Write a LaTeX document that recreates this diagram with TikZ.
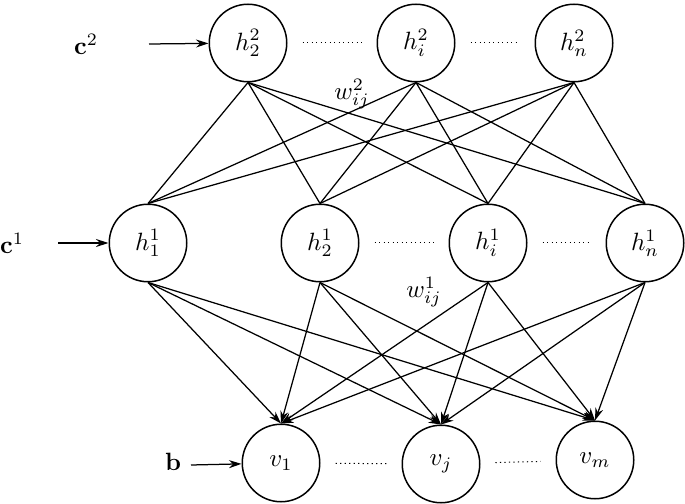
\documentclass[tikz,border=0pt]{standalone}
\usetikzlibrary{arrows.meta}

\begin{document}
\begin{tikzpicture}[x=0.4pt, y=-0.4pt,
  unit/.style={shape=circle, draw=black, fill=white, minimum size=31pt, inner sep=0pt, line width=0.6pt},
  feed/.style={-{Stealth[length=5pt, width=3.2pt]}, line width=0.5pt},
  dotrow/.style={dash pattern=on 0.5pt off 1.3pt, shorten <=6pt, shorten >=6pt}]
\useasboundingbox (0,0) rectangle (685,504);
        % second hidden layer
\node[unit] at (248, 43)
(h2a) {$h^2_2$};
\node[unit] at (416, 43)
(h2i) {$h^2_i$};
\node[unit] at (574, 43)
(h2n) {$h^2_n$};

        % first hidden layer
\node[unit] at (148, 243)
(h1a) {$h^1_1$};
\node[unit] at (320, 243)
(h1b) {$h^1_2$};
\node[unit] at (488, 243)
(h1i) {$h^1_i$};
\node[unit] at (645, 243)
(h1n) {$h^1_n$};

        % visible layer
\node[unit] at (281, 463)
(v1) {$v_1$};
\node[unit] at (441, 464)
(vj) {$v_j$};
\node[unit] at (595, 460)
(vm) {$v_m$};

        % biases
\node at (86, 44) (c2) {$\mathbf{c}^2$};
\node at (12, 243) (c1) {$\mathbf{c}^1$};
\node at (173, 462) (b) {$\mathbf{b}$};
\coordinate (c2in) at (149, 44);
\coordinate (c1in) at (58, 243);
\coordinate (bin) at (191, 465);

        % weights
\node at (352, 94) (w2) {$w^2_{ij}$};
\node at (424, 292) (w1) {$w^1_{ij}$};

\path[feed]
  (c2in) edge (h2a)
  (c1in) edge (h1a)
  (bin)  edge (v1)
;
\path[dotrow]
  (h2a) edge (h2i)
  (h2i) edge (h2n)
  (h1b) edge (h1i)
  (h1i) edge (h1n)
  (v1)  edge (vj)
  (vj)  edge (vm)
;
\path[line width=0.5pt]
  (h2a.south) edge (h1a.north)
  (h2a.south) edge (h1b.north)
  (h2a.south) edge (h1i.north)
  (h2a.south) edge (h1n.north)
  (h2i.south) edge (h1a.north)
  (h2i.south) edge (h1b.north)
  (h2i.south) edge (h1i.north)
  (h2i.south) edge (h1n.north)
  (h2n.south) edge (h1a.north)
  (h2n.south) edge (h1b.north)
  (h2n.south) edge (h1i.north)
  (h2n.south) edge (h1n.north)
;
\path[feed]
  (h1a.south) edge (v1.north)
  (h1a.south) edge (vj.north)
  (h1a.south) edge (vm.north)
  (h1b.south) edge (v1.north)
  (h1b.south) edge (vj.north)
  (h1b.south) edge (vm.north)
  (h1i.south) edge (v1.north)
  (h1i.south) edge (vj.north)
  (h1i.south) edge (vm.north)
  (h1n.south) edge (v1.north)
  (h1n.south) edge (vj.north)
  (h1n.south) edge (vm.north)
;
      \end{tikzpicture}
\end{document}
